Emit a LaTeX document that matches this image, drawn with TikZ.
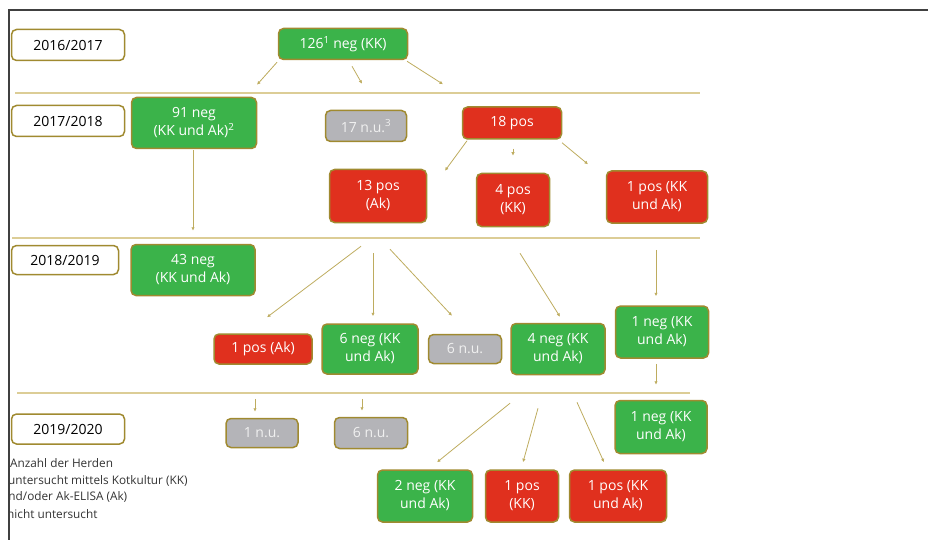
\documentclass[tikz,border=0pt]{standalone}
\usepackage{fontspec}
\setmainfont{Open Sans}
\usepackage{tikz}
\usetikzlibrary{arrows.meta}

\definecolor{boxgreen}{RGB}{59,179,74}
\definecolor{boxred}{RGB}{224,48,30}
\definecolor{boxgray}{RGB}{180,180,184}
\definecolor{boxrim}{RGB}{160,138,48}
\definecolor{sepcol}{RGB}{220,205,150}
\definecolor{arrcol}{RGB}{190,172,95}

\tikzset{
  herdbox/.style={rounded corners=5pt, draw=boxrim, line width=1.5pt,
    inner sep=0pt, align=center, text=white,
    font=\fontsize{14}{18}\selectfont},
  yearbox/.style={herdbox, fill=white, text=black},
  negbox/.style={herdbox, fill=boxgreen},
  posbox/.style={herdbox, fill=boxred},
  nubox/.style={herdbox, fill=boxgray, text=white!88!gray},
  legtext/.style={anchor=west, inner sep=0pt, text=black!80,
    font=\fontsize{11.8}{13}\selectfont},
  arr/.style={-{Latex[length=3.5pt,width=3.5pt]}, draw=arrcol, line width=0.8pt},
  sepline/.style={draw=sepcol, line width=1.5pt}
}

\begin{document}
\begin{tikzpicture}[x=1pt, y=-1pt]

    \useasboundingbox (0,0) rectangle (928,540);

    % frame
    \draw[line width=1.5pt, draw=black!75] (9,540) -- (9,10) -- (928,10);

    % year separators
    \draw[sepline] (15,93) -- (700,93);
    \draw[sepline] (12,238) -- (700,238);
    \draw[sepline] (17,393) -- (690,393);

    % years
    \node[yearbox, minimum width=113pt, minimum height=31pt] (y1617) at (68,45) {2016/2017};
    \node[yearbox, minimum width=113pt, minimum height=31pt] (y1718) at (68,121) {2017/2018};
    \node[yearbox, minimum width=107pt, minimum height=29pt] (y1819) at (65,260) {2018/2019};
    \node[yearbox, minimum width=113pt, minimum height=30pt] (y1920) at (68,429) {2019/2020};

    % 2016/2017
    \node[negbox, minimum width=129pt, minimum height=31pt] (n126) at (343,44) {126\textsuperscript{1} neg (KK)};

    % 2017/2018
    \node[negbox, minimum width=125pt, minimum height=51pt] (n91) at (194,123) {91 neg\\(KK und Ak)\textsuperscript{2}};
    \node[nubox, minimum width=81pt, minimum height=31pt] (n17) at (366,126) {17 n.u.\textsuperscript{3}};
    \node[posbox, minimum width=99pt, minimum height=32pt] (n18) at (512,123) {18 pos};
    \node[posbox, minimum width=97pt, minimum height=53pt] (n13) at (378,196) {13 pos\\(Ak)};
    \node[posbox, minimum width=73pt, minimum height=53pt] (n4pos) at (513,200) {4 pos\\(KK)};
    \node[posbox, minimum width=101pt, minimum height=52pt] (n1both) at (657,197) {1 pos (KK\\und Ak)};

    % 2018/2019
    \node[negbox, minimum width=124pt, minimum height=51pt] (n43) at (193,270) {43 neg\\(KK und Ak)};
    \node[posbox, minimum width=98pt, minimum height=30pt] (n1ak) at (263,349) {1 pos (Ak)};
    \node[negbox, minimum width=96pt, minimum height=50pt] (n6neg) at (370,349) {6 neg (KK\\und Ak)};
    \node[nubox, minimum width=73pt, minimum height=29pt] (n6nu) at (465,349) {6 n.u.};
    \node[negbox, minimum width=94pt, minimum height=51pt] (n4neg) at (558,349) {4 neg (KK\\und Ak)};
    \node[negbox, minimum width=93pt, minimum height=52pt] (n1neg) at (662,332) {1 neg (KK\\und Ak)};

    % 2019/2020
    \node[nubox, minimum width=72pt, minimum height=29pt] (n1nu) at (262,433) {1 n.u.};
    \node[nubox, minimum width=73pt, minimum height=31pt] (n6nulast) at (371,433) {6 n.u.};
    \node[negbox, minimum width=92pt, minimum height=53pt] (n1neglast) at (661,427) {1 neg (KK\\und Ak)};
    \node[negbox, minimum width=95pt, minimum height=52pt] (n2neg) at (425,496) {2 neg (KK\\und Ak)};
    \node[posbox, minimum width=73pt, minimum height=52pt] (n1kk) at (522,496) {1 pos\\(KK)};
    \node[posbox, minimum width=97pt, minimum height=52pt] (n1bothlast) at (618,496) {1 pos (KK\\und Ak)};

    % legend
    \begin{scope}
      \clip (10,450) rectangle (300,530);
      \node[legtext] (legA) at (10,463) {Anzahl der Herden};
      \node[legtext] (legB) at (8,481) {untersucht mittels Kotkultur (KK)};
      \node[legtext] (legC) at (1,497) {und/oder Ak-ELISA (Ak)};
      \node[legtext] (legD) at (7,514) {nicht untersucht};
    \end{scope}

    % edges 2016/2017 -> 2017/2018
    \draw[arr] ([shift={(-66,2)}]n126.south) -- ([shift={(63,-12)}]n91.north);
    \draw[arr] ([shift={(9,6)}]n126.south) -- ([shift={(-4,-26)}]n17.north);
    \draw[arr] ([shift={(64,1)}]n126.south) -- ([shift={(-69,-22)}]n18.north);
    \draw[arr] ([shift={(-45,1)}]n18.south) -- ([shift={(67,2)}]n13.north);
    \draw[arr] ([shift={(1,9)}]n18.south) -- ([shift={(0,-17)}]n4pos.north);
    \draw[arr] ([shift={(50,3)}]n18.south) -- ([shift={(-69,-6)}]n1both.north);

    % edges 2017/2018 -> 2018/2019
    \draw[arr] ([shift={(-1,1)}]n91.south) -- ([shift={(0,-13)}]n43.north);
    \draw[arr] ([shift={(-17,23)}]n13.south) -- ([shift={(4,-16)}]n1ak.north);
    \draw[arr] ([shift={(-5,30)}]n13.south) -- ([shift={(3,-7)}]n6neg.north);
    \draw[arr] ([shift={(12,26)}]n13.south) -- ([shift={(-13,-18)}]n6nu.north);
    \draw[arr] ([shift={(7,26)}]n4pos.south) -- ([shift={(2,-6)}]n4neg.north);
    \draw[arr] ([shift={(-1,26)}]n1both.south) -- ([shift={(-6,-9)}]n1neg.north);

    % edges 2018/2019 -> 2019/2020
    \draw[arr] ([shift={(-8,34)}]n1ak.south) -- ([shift={(-7,-6)}]n1nu.north);
    \draw[arr] ([shift={(-8,24)}]n6neg.south) -- ([shift={(-9,-6)}]n6nulast.north);
    \draw[arr] ([shift={(-6,5)}]n1neg.south) -- ([shift={(-5,-15)}]n1neglast.north);
    \draw[arr] ([shift={(-48,28)}]n4neg.south) -- ([shift={(12,-7)}]n2neg.north);
    \draw[arr] ([shift={(-20,33)}]n4neg.south) -- ([shift={(1,-7)}]n1kk.north);
    \draw[arr] ([shift={(19,27)}]n4neg.south) -- ([shift={(-14,-7)}]n1bothlast.north);

\end{tikzpicture}
\end{document}
